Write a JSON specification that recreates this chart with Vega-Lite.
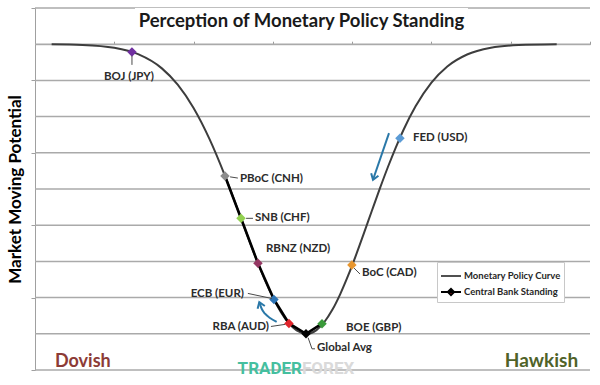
{
  "$schema": "https://vega.github.io/schema/vega-lite/v6.json",
  "width": 555,
  "height": 362,
  "autosize": {"type": "none"},
  "padding": {"left": 35, "top": 8, "right": 10, "bottom": 15},
  "background": "white",
  "config": {
    "view": {"stroke": null},
    "font": "Lato",
    "axisY": {"grid": false},
    "axisX": {"grid": false}
  },
  "datasets": {
    "levels": [
      {"y": 0}, {"y": 1}, {"y": 2}, {"y": 3}, {"y": 4}, {"y": 5}, {"y": 6}, {"y": 7}, {"y": 8}, {"y": 9}, {"y": 10}
    ],
    "curve": [
      {"x": 0.21, "y": 8.996}, {"x": 0.6, "y": 8.979}, {"x": 1.0, "y": 8.9}, {"x": 1.3, "y": 8.724},
      {"x": 1.6, "y": 8.332}, {"x": 1.8, "y": 7.882}, {"x": 2.0, "y": 7.238}, {"x": 2.2, "y": 6.384},
      {"x": 2.4, "y": 5.342}, {"x": 2.5, "y": 4.769}, {"x": 2.6, "y": 4.18}, {"x": 2.7, "y": 3.59},
      {"x": 2.8, "y": 3.018}, {"x": 2.9, "y": 2.482}, {"x": 3.0, "y": 2.005}, {"x": 3.1, "y": 1.602},
      {"x": 3.2, "y": 1.294}, {"x": 3.3, "y": 1.091}, {"x": 3.424, "y": 1.0}, {"x": 3.55, "y": 1.102},
      {"x": 3.65, "y": 1.326}, {"x": 3.75, "y": 1.662}, {"x": 3.85, "y": 2.098}, {"x": 3.95, "y": 2.611},
      {"x": 4.05, "y": 3.182}, {"x": 4.15, "y": 3.788}, {"x": 4.25, "y": 4.406}, {"x": 4.35, "y": 5.016},
      {"x": 4.45, "y": 5.601}, {"x": 4.55, "y": 6.146}, {"x": 4.65, "y": 6.643}, {"x": 4.8, "y": 7.284},
      {"x": 5.0, "y": 7.938}, {"x": 5.2, "y": 8.385}, {"x": 5.45, "y": 8.716}, {"x": 5.75, "y": 8.902},
      {"x": 6.1, "y": 8.976}, {"x": 6.58, "y": 8.998}
    ],
    "banks": [
      {"bank": "BOJ", "label": "BOJ (JPY)", "x": 1.223, "y": 8.785, "standing": null},
      {"bank": "PBoC", "label": "PBoC (CNH)", "x": 2.396, "y": 5.36, "standing": 1},
      {"bank": "SNB", "label": "SNB (CHF)", "x": 2.598, "y": 4.19, "standing": 2},
      {"bank": "RBNZ", "label": "RBNZ (NZD)", "x": 2.812, "y": 2.95, "standing": 3},
      {"bank": "ECB", "label": "ECB (EUR)", "x": 3.014, "y": 1.95, "standing": 4},
      {"bank": "RBA", "label": "RBA (AUD)", "x": 3.203, "y": 1.285, "standing": 5},
      {"bank": "Global Avg", "label": "Global Avg", "x": 3.418, "y": 1.0, "standing": 6},
      {"bank": "BOE", "label": "BOE (GBP)", "x": 3.62, "y": 1.28, "standing": 7},
      {"bank": "BoC", "label": "BoC (CAD)", "x": 3.997, "y": 2.9, "standing": null},
      {"bank": "FED", "label": "FED (USD)", "x": 4.603, "y": 6.4, "standing": null}
    ],
    "arrows": [
      {"arrow": "fed", "i": 0, "x": 4.465, "y": 6.545},
      {"arrow": "fed", "i": 1, "x": 4.263, "y": 5.256},
      {"arrow": "ecb", "i": 0, "x": 3.048, "y": 1.327},
      {"arrow": "ecb", "i": 1, "x": 2.964, "y": 1.437},
      {"arrow": "ecb", "i": 2, "x": 2.901, "y": 1.555},
      {"arrow": "ecb", "i": 3, "x": 2.859, "y": 1.692},
      {"arrow": "ecb", "i": 4, "x": 2.829, "y": 1.876}
    ],
    "titlebox": [
      {"x": 1.261, "x2": 5.461, "y": 10, "y2": 9.31}
    ],
    "notes": [
      {"note": "title", "text": "Perception of Monetary Policy Standing", "x": 3.361, "y": 9.63},
      {"note": "dovish", "text": "Dovish", "x": 0.252, "y": 0.07},
      {"note": "hawkish", "text": "Hawkish", "x": 6.85, "y": 0.07},
      {"note": "trader", "text": "TRADER", "x": 3.367, "y": 0.04},
      {"note": "forex", "text": "FOREX", "x": 3.367, "y": 0.04}
    ]
  },
  "layer": [
    {
      "data": {"name": "levels"},
      "mark": {"type": "rule", "stroke": "#aaaaaa", "strokeWidth": 1.5},
      "encoding": {
        "y": {"field": "y", "type": "quantitative", "scale": {"domain": [0, 10], "nice": false, "zero": false},
          "axis": {"title": "Market Moving Potential", "values": [0, 1, 2, 3, 4, 5, 6, 7, 8, 9, 10], "labels": false, "grid": false, "tickSize": 4, "tickColor": "#a0a0a0", "domainColor": "#a0a0a0", "titleFont": "Lato", "titleFontSize": 17, "titleFontWeight": "bold", "titleColor": "#000000", "titlePadding": 6}}
      }
    },
    {
      "data": {"name": "curve"},
      "mark": {"type": "line", "strokeWidth": 2, "interpolate": "monotone"},
      "encoding": {
        "x": {"field": "x", "type": "quantitative", "scale": {"domain": [0, 7], "nice": false, "zero": false},
          "axis": {"orient": "top", "offset": -36.2, "values": [0, 1, 2, 3, 4, 5, 6, 7], "labels": false, "title": null, "grid": false, "tickSize": 3, "tickColor": "#9a9a9a", "domainColor": "#9a9a9a"}},
        "y": {"field": "y", "type": "quantitative"},
        "stroke": {"datum": "Monetary Policy Curve", "type": "nominal",
          "scale": {"domain": ["Monetary Policy Curve", "Central Bank Standing"], "range": ["#3d3d3d", "#000000"]},
          "legend": {"orient": "none", "legendX": 402, "legendY": 254, "title": null, "symbolSize": 400, "symbolStrokeWidth": 1.8,
            "labelFont": "Lato", "labelFontSize": 9.5, "labelFontWeight": "bold", "labelColor": "#262626", "labelOffset": 2,
            "padding": 3, "fillColor": "white", "strokeColor": "#c8c8c8", "rowPadding": 0,
            "encode": {"symbols": {"update": {
              "shape": {"signal": "datum.value === 'Central Bank Standing' ? 'M-1,0L1,0M-0.32,0L0,-0.32L0.32,0L0,0.32Z' : 'M-1,0L1,0'"},
              "fill": {"signal": "datum.value === 'Central Bank Standing' ? '#d9262c' : 'transparent'"}
            }}}}
        }
      }
    },
    {
      "data": {"name": "titlebox"},
      "mark": {"type": "rect", "fill": "#bdbdbd", "opacity": 0.7, "xOffset": 2, "yOffset": 2},
      "encoding": {
        "x": {"field": "x", "type": "quantitative"}, "x2": {"field": "x2"},
        "y": {"field": "y", "type": "quantitative"}, "y2": {"field": "y2"}
      }
    },
    {
      "data": {"name": "titlebox"},
      "mark": {"type": "rect", "fill": "white", "opacity": 1},
      "encoding": {
        "x": {"field": "x", "type": "quantitative"}, "x2": {"field": "x2"},
        "y": {"field": "y", "type": "quantitative"}, "y2": {"field": "y2"}
      }
    },
    {
      "data": {"name": "arrows"},
      "mark": {"type": "line", "strokeWidth": 2, "color": "#2a78a8", "interpolate": "monotone"},
      "encoding": {
        "x": {"field": "x", "type": "quantitative"}, "y": {"field": "y", "type": "quantitative"},
        "detail": {"field": "arrow"}, "order": {"field": "i"}
      }
    },
    {
      "data": {"name": "arrows"},
      "transform": [{"filter": "datum.arrow === 'fed' && datum.i === 1"}],
      "mark": {"type": "point", "shape": "M-0.55,0.8L0,0L0.55,0.8", "size": 196, "filled": false, "stroke": "#2a78a8", "strokeWidth": 2, "angle": 199, "opacity": 1},
      "encoding": {"x": {"field": "x", "type": "quantitative"}, "y": {"field": "y", "type": "quantitative"}}
    },
    {
      "data": {"name": "arrows"},
      "transform": [{"filter": "datum.arrow === 'ecb' && datum.i === 4"}],
      "mark": {"type": "point", "shape": "M-0.55,0.8L0,0L0.55,0.8", "size": 196, "filled": false, "stroke": "#2a78a8", "strokeWidth": 2, "angle": 340, "opacity": 1},
      "encoding": {"x": {"field": "x", "type": "quantitative"}, "y": {"field": "y", "type": "quantitative"}}
    },
    {
      "data": {"name": "banks"},
      "transform": [{"filter": "datum.standing != null"}],
      "mark": {"type": "line", "strokeWidth": 2.6},
      "encoding": {
        "x": {"field": "x", "type": "quantitative"}, "y": {"field": "y", "type": "quantitative"},
        "stroke": {"datum": "Central Bank Standing", "type": "nominal"}, "order": {"field": "standing"}
      }
    },
    {
      "data": {"name": "banks"},
      "mark": {"type": "point", "shape": "diamond", "filled": true, "size": 90, "opacity": 1, "strokeWidth": 0},
      "encoding": {
        "x": {"field": "x", "type": "quantitative"}, "y": {"field": "y", "type": "quantitative"},
        "fill": {"field": "bank", "type": "nominal", "legend": null,
          "scale": {"domain": ["BOJ", "PBoC", "SNB", "RBNZ", "ECB", "RBA", "Global Avg", "BOE", "BoC", "FED"],
            "range": ["#7030a0", "#8c8c8c", "#92d050", "#953763", "#2e75b6", "#e0262c", "#000000", "#3a9a3a", "#e8962e", "#5b9bd5"]}}
      }
    },
    {
      "data": {"name": "banks"},
      "transform": [{"filter": {"field": "bank", "oneOf": ["BOJ", "PBoC", "SNB", "ECB", "RBA", "Global Avg", "BoC"]}}],
      "mark": {"type": "point", "filled": false, "size": 3600, "stroke": "#4a4a4a", "strokeWidth": 1, "opacity": 1},
      "encoding": {
        "x": {"field": "x", "type": "quantitative"}, "y": {"field": "y", "type": "quantitative"},
        "shape": {"field": "bank", "type": "nominal", "legend": null,
          "scale": {"domain": ["BOJ", "PBoC", "SNB", "ECB", "RBA", "Global Avg", "BoC"],
            "range": ["M0,0.13L0,0.43", "M0.17,0.03L0.43,0.07", "M0.17,0L0.4,0", "M-0.07,-0.03L-0.87,-0.2", "M-0.13,0.03L-0.6,0.1", "M0.07,0.13L0.2,0.5L0.3,0.5", "M0.07,0.1L0.27,0.3"]}}
      }
    },
    {"data": {"name": "banks"}, "transform": [{"filter": "datum.bank === 'BOJ'"}],
      "mark": {"type": "text", "fontSize": 11.5, "fontWeight": "bold", "color": "#2b2b2b", "baseline": "middle", "align": "center", "dx": -3, "dy": 25},
      "encoding": {"x": {"field": "x", "type": "quantitative"}, "y": {"field": "y", "type": "quantitative"}, "text": {"field": "label"}}},
    {"data": {"name": "banks"}, "transform": [{"filter": "datum.bank === 'PBoC'"}],
      "mark": {"type": "text", "fontSize": 11.5, "fontWeight": "bold", "color": "#2b2b2b", "baseline": "middle", "align": "left", "dx": 15, "dy": 3},
      "encoding": {"x": {"field": "x", "type": "quantitative"}, "y": {"field": "y", "type": "quantitative"}, "text": {"field": "label"}}},
    {"data": {"name": "banks"}, "transform": [{"filter": "datum.bank === 'SNB'"}],
      "mark": {"type": "text", "fontSize": 11.5, "fontWeight": "bold", "color": "#2b2b2b", "baseline": "middle", "align": "left", "dx": 14, "dy": 0},
      "encoding": {"x": {"field": "x", "type": "quantitative"}, "y": {"field": "y", "type": "quantitative"}, "text": {"field": "label"}}},
    {"data": {"name": "banks"}, "transform": [{"filter": "datum.bank === 'RBNZ'"}],
      "mark": {"type": "text", "fontSize": 11.5, "fontWeight": "bold", "color": "#2b2b2b", "baseline": "middle", "align": "left", "dx": 8, "dy": -14},
      "encoding": {"x": {"field": "x", "type": "quantitative"}, "y": {"field": "y", "type": "quantitative"}, "text": {"field": "label"}}},
    {"data": {"name": "banks"}, "transform": [{"filter": "datum.bank === 'ECB'"}],
      "mark": {"type": "text", "fontSize": 11.5, "fontWeight": "bold", "color": "#2b2b2b", "baseline": "middle", "align": "right", "dx": -30, "dy": -5},
      "encoding": {"x": {"field": "x", "type": "quantitative"}, "y": {"field": "y", "type": "quantitative"}, "text": {"field": "label"}}},
    {"data": {"name": "banks"}, "transform": [{"filter": "datum.bank === 'RBA'"}],
      "mark": {"type": "text", "fontSize": 11.5, "fontWeight": "bold", "color": "#2b2b2b", "baseline": "middle", "align": "right", "dx": -20, "dy": 4},
      "encoding": {"x": {"field": "x", "type": "quantitative"}, "y": {"field": "y", "type": "quantitative"}, "text": {"field": "label"}}},
    {"data": {"name": "banks"}, "transform": [{"filter": "datum.bank === 'Global Avg'"}],
      "mark": {"type": "text", "fontSize": 11.5, "fontWeight": "bold", "color": "#2b2b2b", "baseline": "middle", "align": "left", "dx": 11, "dy": 14},
      "encoding": {"x": {"field": "x", "type": "quantitative"}, "y": {"field": "y", "type": "quantitative"}, "text": {"field": "label"}}},
    {"data": {"name": "banks"}, "transform": [{"filter": "datum.bank === 'BOE'"}],
      "mark": {"type": "text", "fontSize": 11.5, "fontWeight": "bold", "color": "#2b2b2b", "baseline": "middle", "align": "left", "dx": 24, "dy": 4},
      "encoding": {"x": {"field": "x", "type": "quantitative"}, "y": {"field": "y", "type": "quantitative"}, "text": {"field": "label"}}},
    {"data": {"name": "banks"}, "transform": [{"filter": "datum.bank === 'BoC'"}],
      "mark": {"type": "text", "fontSize": 11.5, "fontWeight": "bold", "color": "#2b2b2b", "baseline": "middle", "align": "left", "dx": 10, "dy": 8},
      "encoding": {"x": {"field": "x", "type": "quantitative"}, "y": {"field": "y", "type": "quantitative"}, "text": {"field": "label"}}},
    {"data": {"name": "banks"}, "transform": [{"filter": "datum.bank === 'FED'"}],
      "mark": {"type": "text", "fontSize": 11.5, "fontWeight": "bold", "color": "#2b2b2b", "baseline": "middle", "align": "left", "dx": 13, "dy": 0},
      "encoding": {"x": {"field": "x", "type": "quantitative"}, "y": {"field": "y", "type": "quantitative"}, "text": {"field": "label"}}},
    {"data": {"name": "notes"}, "transform": [{"filter": "datum.note === 'title'"}],
      "mark": {"type": "text", "fontSize": 18.5, "fontWeight": "bold", "color": "#1a1a1a", "baseline": "middle", "align": "center"},
      "encoding": {"x": {"field": "x", "type": "quantitative"}, "y": {"field": "y", "type": "quantitative"}, "text": {"field": "text"}}},
    {"data": {"name": "notes"}, "transform": [{"filter": "datum.note === 'dovish'"}],
      "mark": {"type": "text", "fontSize": 18, "fontWeight": "bold", "color": "#8c3b36", "baseline": "alphabetic", "align": "left"},
      "encoding": {"x": {"field": "x", "type": "quantitative"}, "y": {"field": "y", "type": "quantitative"}, "text": {"field": "text"}}},
    {"data": {"name": "notes"}, "transform": [{"filter": "datum.note === 'hawkish'"}],
      "mark": {"type": "text", "fontSize": 19, "fontWeight": "bold", "color": "#4f6228", "baseline": "alphabetic", "align": "right"},
      "encoding": {"x": {"field": "x", "type": "quantitative"}, "y": {"field": "y", "type": "quantitative"}, "text": {"field": "text"}}},
    {"data": {"name": "notes"}, "transform": [{"filter": "datum.note === 'trader'"}],
      "mark": {"type": "text", "font": "Roboto", "fontSize": 17, "fontWeight": "bold", "color": "#45bf9f", "baseline": "middle", "align": "right"},
      "encoding": {"x": {"field": "x", "type": "quantitative"}, "y": {"field": "y", "type": "quantitative"}, "text": {"field": "text"}}},
    {"data": {"name": "notes"}, "transform": [{"filter": "datum.note === 'forex'"}],
      "mark": {"type": "text", "font": "Roboto", "fontSize": 17, "fontWeight": "bold", "color": "#dadada", "baseline": "middle", "align": "left"},
      "encoding": {"x": {"field": "x", "type": "quantitative"}, "y": {"field": "y", "type": "quantitative"}, "text": {"field": "text"}}}
  ]
}
